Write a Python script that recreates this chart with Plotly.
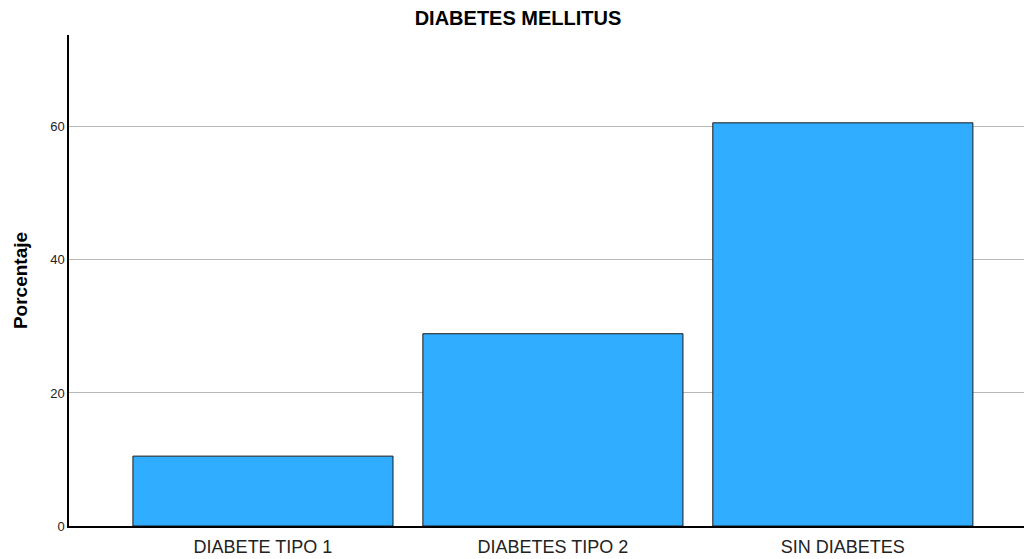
import plotly.graph_objects as go

categories = ["DIABETE TIPO 1", "DIABETES TIPO 2", "SIN DIABETES"]
percentages = [10.5, 28.9, 60.6]
y_ticks = [0, 20, 40, 60]

FONT = "Liberation Sans, Arial, sans-serif"
W, H = 1032, 551

fig = go.Figure(go.Bar(
    x=categories, y=percentages,
    marker=dict(color="#31adff", line=dict(color="#1a1a1a", width=1)),
    width=0.897,
))

fig.update_layout(
    width=W, height=H,
    margin=dict(l=61, r=0, t=27, b=33),
    paper_bgcolor="white", plot_bgcolor="white",
    font=dict(family=FONT, color="#000000"),
    title=dict(text="<b>DIABETES MELLITUS</b>", x=(518 - 8) / W, xanchor="center",
               y=1 - 10 / H, yanchor="middle", font=dict(size=20, family=FONT)),
    showlegend=False,
)
fig.update_xaxes(
    type="category", range=[-0.669, 2.680],
    showline=True, linecolor="#000000", linewidth=1.5,
    showgrid=False, ticks="", tickfont=dict(size=18, color="#222222"),
    ticklabelstandoff=4,
)
fig.update_yaxes(
    range=[0, 73.8], tickvals=y_ticks,
    showline=True, linecolor="#000000", linewidth=1.5,
    showgrid=True, gridcolor="#b8b8b8", gridwidth=1,
    zeroline=False, ticks="", tickfont=dict(size=13, color="#222222"),
    title=dict(text="<b>Porcentaje</b>", font=dict(size=19), standoff=18),
)

fig.write_html("out.html")
